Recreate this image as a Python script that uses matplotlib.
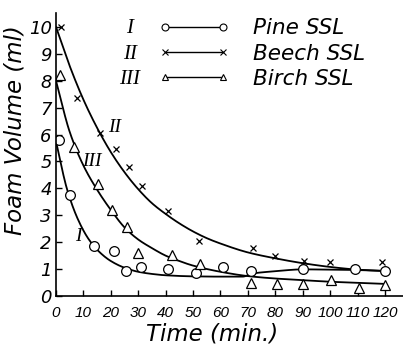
import numpy as np
import matplotlib
matplotlib.use("Agg")
import matplotlib.pyplot as plt
from matplotlib.lines import Line2D

# ---- data ----
pine_t = [1, 5, 14, 21, 25.5, 31, 41, 51, 61, 71, 90, 109, 120]
pine_v = [5.8, 3.75, 1.85, 1.66, 0.93, 1.08, 1.02, 0.87, 1.08, 0.93, 0.99, 0.99, 0.93]

beech_t = [2, 7.5, 16, 22, 26.5, 31.5, 41, 52, 72, 80, 90.5, 100, 119]
beech_v = [10.0, 7.35, 6.05, 5.45, 4.8, 4.1, 3.15, 2.05, 1.8, 1.5, 1.3, 1.28, 1.28]

birch_t = [1.5, 6.5, 15.5, 20.5, 26, 30, 42.5, 52.5, 71, 80.5, 90, 100.5, 110.5, 120]
birch_v = [8.2, 5.55, 4.15, 3.2, 2.55, 1.6, 1.52, 1.2, 0.47, 0.43, 0.43, 0.58, 0.3, 0.4]

# drawn (fitted) curves
pine_fit_t = [0, 4, 8, 12, 16, 20, 25, 30, 35, 40, 50, 60, 68, 72, 80, 90, 100, 108, 120]
pine_fit_v = [5.75, 3.98, 2.85, 2.1, 1.62, 1.3, 1.05, 0.9, 0.82, 0.77, 0.73, 0.72, 0.72, 0.84, 0.92, 0.99, 0.98, 0.97, 0.93]

beech_fit_t = [0, 5, 10, 15, 20, 25, 30, 35, 40, 45, 50, 55, 60, 70, 80, 90, 100, 110, 120]
beech_fit_v = [10.0, 8.55, 7.3, 6.25, 5.35, 4.6, 3.97, 3.45, 3.05, 2.7, 2.4, 2.15, 1.95, 1.62, 1.40, 1.22, 1.08, 0.98, 0.93]

birch_fit_t = [0, 5, 10, 15, 20, 25, 30, 35, 40, 45, 50, 60, 70, 80, 90, 100, 110, 120]
birch_fit_v = [8.0, 6.1, 4.85, 3.95, 3.2, 2.55, 2.1, 1.78, 1.5, 1.3, 1.13, 0.9, 0.74, 0.65, 0.59, 0.53, 0.49, 0.45]

numerals = ["I", "II", "III"]
names = ["Pine SSL", "Beech SSL", "Birch SSL"]
x_ticks = list(range(0, 121, 10))
y_ticks = list(range(0, 11))
curve_label_pos = {"I": (8.1, 2.2), "II": (21.5, 6.25), "III": (13.0, 5.0)}


def pchip(x, y, xs):
    x = np.asarray(x, float); y = np.asarray(y, float)
    h = np.diff(x); d = np.diff(y) / h
    m = np.zeros_like(y)
    for k in range(1, len(x) - 1):
        if d[k - 1] * d[k] <= 0:
            m[k] = 0
        else:
            w1 = 2 * h[k] + h[k - 1]; w2 = h[k] + 2 * h[k - 1]
            m[k] = (w1 + w2) / (w1 / d[k - 1] + w2 / d[k])
    m[0] = d[0]; m[-1] = d[-1]
    idx = np.clip(np.searchsorted(x, xs) - 1, 0, len(x) - 2)
    t = (xs - x[idx]) / h[idx]
    h00 = 2 * t**3 - 3 * t**2 + 1; h10 = t**3 - 2 * t**2 + t
    h01 = -2 * t**3 + 3 * t**2; h11 = t**3 - t**2
    return h00 * y[idx] + h10 * h[idx] * m[idx] + h01 * y[idx + 1] + h11 * h[idx] * m[idx + 1]


fig = plt.figure(figsize=(4.03, 3.48), dpi=100)
ax = fig.add_axes([56 / 403, 52 / 348, 347 / 403, 283 / 348])
ax.set_xlim(0, 126.6)
ax.set_ylim(0, 10.52)

for ft, fv in [(pine_fit_t, pine_fit_v), (beech_fit_t, beech_fit_v), (birch_fit_t, birch_fit_v)]:
    xs = np.linspace(ft[0], ft[-1], 400)
    ax.plot(xs, pchip(ft, fv, xs), color='black', lw=1.3)

ax.plot(pine_t, pine_v, linestyle='none', marker='o', ms=7, mfc='white', mec='black', mew=0.9)
ax.plot(beech_t, beech_v, linestyle='none', marker='x', ms=5, mec='black', mew=0.9)
ax.plot(birch_t, birch_v, linestyle='none', marker='^', ms=6.5, mfc='white', mec='black', mew=0.9)

for lab, (tx, ty) in curve_label_pos.items():
    ax.text(tx, ty, lab, fontsize=14, family='Liberation Serif', style='italic',
            ha='center', va='center')

for s in ['top', 'right']:
    ax.spines[s].set_visible(False)
for s in ['left', 'bottom']:
    ax.spines[s].set_linewidth(1.2)

ax.set_xticks(x_ticks)
ax.set_yticks(y_ticks)
ax.tick_params(direction='in', length=4, width=1)
ax.tick_params(axis='x', pad=7)
ax.tick_params(axis='y', pad=3)
for lbl in ax.get_xticklabels():
    lbl.set_fontfamily('Liberation Sans'); lbl.set_fontstyle('italic'); lbl.set_fontsize(11)
for lbl in ax.get_yticklabels():
    lbl.set_fontfamily('DejaVu Sans'); lbl.set_fontstyle('italic'); lbl.set_fontsize(13)

ax.set_xlabel('Time (min.)', fontsize=16.5, style='italic')
ax.xaxis.set_label_coords(0.45, -0.135)
ax.xaxis.label.set_va('center')
ax.set_ylabel('Foam Volume (ml)', fontsize=16.5, style='italic')
ax.yaxis.set_label_coords(-0.118, 0.587)
ax.yaxis.label.set_va('center')

handles = [
    Line2D([], [], color='black', lw=1.0, marker='o', ms=5, mfc='white', mec='black', mew=0.8),
    Line2D([], [], color='black', lw=1.0, marker='x', ms=4, mec='black', mew=0.8),
    Line2D([], [], color='black', lw=1.0, marker='^', ms=5, mfc='white', mec='black', mew=0.8),
]
leg = ax.legend(handles, names, numpoints=2, frameon=False, loc='upper left',
                bbox_to_anchor=(0.27, 1.012), handlelength=3.3, handletextpad=1.1,
                labelspacing=0.25, borderaxespad=0,
                prop={'size': 15.5, 'style': 'italic'})

for i, n in enumerate(numerals):
    ax.text(0.213, 0.945 - i * 0.09, n, transform=ax.transAxes, fontsize=15,
            family='Liberation Serif', style='italic', ha='center', va='center')

fig.savefig('out.png', dpi=100)
